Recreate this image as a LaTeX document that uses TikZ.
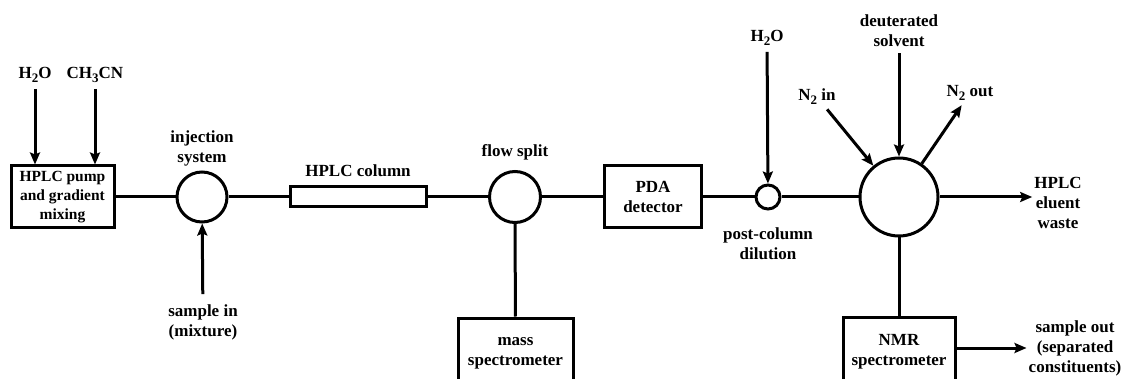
\documentclass[tikz,border=0pt]{standalone}
\usepackage{fontspec}
\setmainfont{Liberation Serif}
\usepackage{tikz}
\usetikzlibrary{arrows.meta, positioning}
\newcommand{\chemsub}[1]{\raisebox{-0.5ex}{\fontsize{13}{13}\selectfont #1}}

\begin{document}
\begin{tikzpicture}[x=1pt, y=-1pt,
    every node/.style={font=\bfseries\fontsize{17}{20}\selectfont, align=center},
    box/.style={draw, line width=3pt, inner sep=2pt},
    valve/.style={draw, circle, line width=3pt, inner sep=0pt},
    lbl/.style={inner sep=2pt},
    pipe/.style={line width=3pt},
    flow/.style={pipe, -{Stealth[length=12pt, width=10pt, inset=2pt]}}]
  \useasboundingbox (0,0) rectangle (1123,379);
  \clip (0,0) rectangle (1123,379);

  % units along the flow path
  \node[box, minimum width=103pt, minimum height=62pt,
        font=\bfseries\fontsize{15.5}{19}\selectfont] (pump) at (62.5,197) {HPLC pump\\and gradient\\mixing};
  \node[valve, minimum size=50pt] (inj) at (202,197) {};
  \node[box, minimum width=136pt, minimum height=20pt, inner sep=0pt] (col) at (358,197) {};
  \node[valve, minimum size=51pt] (split) at (515,197) {};
  \node[box, minimum width=115pt, minimum height=70pt] (ms) at (515.5,353) {mass\\spectrometer};
  \node[box, minimum width=97pt, minimum height=62pt] (pda) at (653,197) {PDA\\detector};
  \node[valve, minimum size=24pt] (dil) at (768,197) {};
  \node[valve, minimum size=78pt] (nmr) at (899,197) {};
  \node[box, minimum width=112pt, minimum height=70pt] (nmrspec) at (899,352) {NMR\\spectrometer};

  % labels
  \node[lbl] (h2oin) at (35,75) {H\chemsub{2}O};
  \node[lbl] (mecn) at (95,75) {CH\chemsub{3}CN};
  \node[lbl] (injlab) at (202,148) {injection\\system};
  \node[lbl] (samplein) at (203,322) {sample in\\(mixture)};
  \node[lbl] (collab) at (358,171) {HPLC column};
  \node[lbl] (splitlab) at (515,152) {flow split};
  \node[lbl] (h2odil) at (767,38) {H\chemsub{2}O};
  \node[lbl] (dillab) at (768,244) {post-column\\dilution};
  \node[lbl] (deut) at (899,31) {deuterated\\solvent};
  \node[lbl] (n2in) at (817,97) {N\chemsub{2} in};
  \node[lbl] (n2out) at (970,93) {N\chemsub{2} out};
  \node[lbl] (waste) at (1058,203) {HPLC\\eluent\\waste};
  \node[lbl] (sampleout) at (1075,348) {sample out\\(separated\\constituents)};

  % tubing
  \draw[pipe] (pump) -- (inj) -- (col) -- (split) -- (pda) -- (dil) -- (nmr);
  \draw[pipe] (split) -- (ms);
  \draw[pipe] (nmr) -- (nmrspec);

  % feeds and outlets
  \draw[flow, shorten <=4pt] (h2oin) -- (h2oin |- pump.north);
  \draw[flow, shorten <=4pt] (mecn) -- (mecn |- pump.north);
  \draw[flow, shorten <=8pt] (samplein) -- (inj);
  \draw[flow, shorten <=4pt] (h2odil) -- (dil);
  \draw[flow, shorten <=4pt] (deut) -- (nmr);
  \draw[flow, shorten <=3pt] (n2in) -- (nmr);
  \draw[flow, shorten >=3pt] (nmr) -- (n2out);
  \draw[flow] (nmr) -- (nmr -| waste.west);
  \draw[flow] (nmrspec.east |- sampleout.west) -- (sampleout.west);
\end{tikzpicture}
\end{document}
